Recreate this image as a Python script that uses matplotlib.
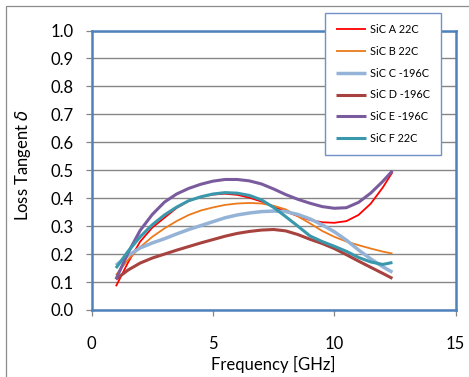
import matplotlib
matplotlib.use("Agg")
import matplotlib.pyplot as plt
from matplotlib.patches import Rectangle

plt.rcParams['font.family'] = ['Lato', 'DejaVu Sans']
plt.rcParams['mathtext.fontset'] = 'dejavusans'

freq = [1.0, 1.5, 2.0, 2.5, 3.0, 3.5, 4.0, 4.5, 5.0, 5.5, 6.0, 6.5,
        7.0, 7.5, 8.0, 8.5, 9.0, 9.5, 10.0, 10.5, 11.0, 11.5, 12.0, 12.4]

sic_a = [0.085, 0.170, 0.245, 0.295, 0.330, 0.365, 0.390, 0.405, 0.413, 0.416, 0.412, 0.402,
         0.388, 0.370, 0.352, 0.336, 0.322, 0.314, 0.312, 0.318, 0.340, 0.380, 0.438, 0.493]
sic_b = [0.125, 0.180, 0.225, 0.262, 0.292, 0.318, 0.340, 0.356, 0.367, 0.376, 0.381, 0.383,
         0.381, 0.373, 0.360, 0.335, 0.310, 0.283, 0.262, 0.245, 0.232, 0.220, 0.209, 0.202]
sic_c = [0.160, 0.195, 0.222, 0.240, 0.255, 0.272, 0.288, 0.302, 0.316, 0.330, 0.340, 0.347,
         0.352, 0.354, 0.352, 0.342, 0.326, 0.305, 0.280, 0.250, 0.215, 0.183, 0.155, 0.135]
sic_d = [0.110, 0.143, 0.168, 0.186, 0.200, 0.214, 0.227, 0.240, 0.252, 0.264, 0.274, 0.281,
         0.286, 0.288, 0.283, 0.270, 0.253, 0.238, 0.220, 0.198, 0.175, 0.153, 0.131, 0.113]
sic_e = [0.110, 0.205, 0.285, 0.342, 0.386, 0.415, 0.435, 0.450, 0.461, 0.467, 0.467, 0.462,
         0.451, 0.433, 0.413, 0.396, 0.382, 0.370, 0.364, 0.366, 0.385, 0.418, 0.460, 0.498]
sic_f = [0.150, 0.210, 0.262, 0.305, 0.340, 0.368, 0.391, 0.405, 0.415, 0.420, 0.418, 0.410,
         0.394, 0.367, 0.334, 0.300, 0.265, 0.245, 0.228, 0.210, 0.188, 0.172, 0.163, 0.170]

labels = ["SiC A 22C", "SiC B 22C", "SiC C -196C", "SiC D -196C", "SiC E -196C", "SiC F 22C"]
series = [sic_a, sic_b, sic_c, sic_d, sic_e, sic_f]
colors = ["#FF0000", "#EC7A1C", "#95B3D7", "#A7423F", "#7A5C9E", "#3A98AD"]
widths = [1.3, 1.3, 2.5, 2.2, 2.2, 2.2]

x_ticks = [0, 5, 10, 15]
y_ticks = [0.0, 0.1, 0.2, 0.3, 0.4, 0.5, 0.6, 0.7, 0.8, 0.9, 1.0]

W, H = 469, 377
fig = plt.figure(figsize=(W / 100, H / 100), dpi=100)
fig.patch.set_facecolor("white")

# outer chart frame
fig.patches.append(Rectangle((6 / W, -0.1), 1.2, 1 - 6 / H + 0.1, transform=fig.transFigure,
                             fill=False, edgecolor="#8C8C8C", linewidth=0.9, zorder=0))

ax = fig.add_axes([91.7 / W, 67 / H, (455.5 - 91.7) / W, (310 - 30.5) / H])

for y, lab, c, lw in zip(series, labels, colors, widths):
    ax.plot(freq, y, color=c, lw=lw, label=lab, solid_capstyle="butt")

ax.set_xlim(0, 15)
ax.set_ylim(0, 1.0)
ax.set_xticks(x_ticks)
ax.set_yticks(y_ticks)
ax.set_yticklabels([f"{v:.1f}" for v in y_ticks])
ax.grid(axis="y", color="#868686", linewidth=1.0)
ax.set_axisbelow(True)
for s in ax.spines.values():
    s.set_color("#4F81BD")
    s.set_linewidth(1.8)
ax.tick_params(axis="both", direction="out", length=4, width=0.9, color="#868686",
               labelsize=12, labelcolor="black")
ax.tick_params(axis="y", pad=9)
ax.tick_params(axis="x", pad=15)

ax.set_xlabel("Frequency [GHz]", fontsize=12)
ax.set_ylabel("Loss Tangent $\\delta$", fontsize=12)
ax.xaxis.set_label_coords(0.5, -0.165)
ax.yaxis.set_label_coords(-0.16, 0.52)

leg = fig.legend(loc="upper left", bbox_to_anchor=(325 / W, 1 - 13 / H),
                 bbox_transform=fig.transFigure, fontsize=7.8, frameon=True, fancybox=False,
                 borderaxespad=0, borderpad=1.0, labelspacing=1.0, handlelength=2.8,
                 handletextpad=0.35)
leg.get_frame().set_edgecolor("#7092C8")
leg.get_frame().set_linewidth(1.0)
leg.get_frame().set_facecolor("white")
leg.get_frame().set_alpha(1)

fig.savefig("out.png", dpi=100, facecolor="white")
